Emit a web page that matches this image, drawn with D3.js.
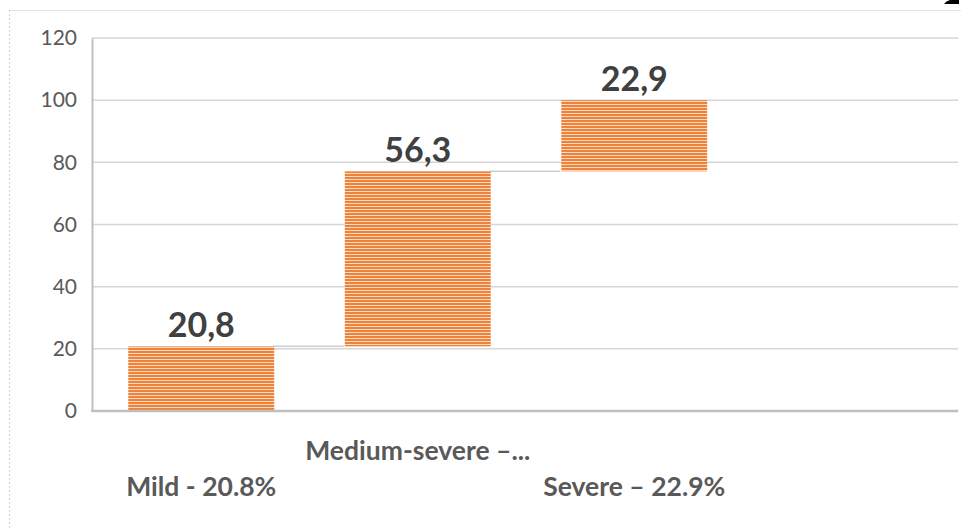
<!DOCTYPE html>
<html><head><meta charset="utf-8">
<script src="https://cdn.jsdelivr.net/npm/d3@7"></script>
<style>html,body{margin:0;padding:0;background:#fff;}svg{display:block;}</style>
</head><body>
<svg id="c" width="961" height="529"></svg>
<script>
const categories = ["Mild - 20.8%", "Medium-severe –...", "Severe – 22.9%", ""];
const values = [20.8, 56.3, 22.9];
const valueLabels = ["20,8", "56,3", "22,9"];
const yTicks = [0, 20, 40, 60, 80, 100, 120];

const svg = d3.select("#c");
const W = 961, H = 529;
const mLeft = 92, mRight = 958, mTop = 38, mBottom = 411;

// chart border
svg.append("line").attr("x1", 9).attr("x2", W).attr("y1", 10.5).attr("y2", 10.5)
  .attr("stroke", "#e3e3e3").attr("stroke-width", 1);
svg.append("line").attr("x1", 9.5).attr("x2", 9.5).attr("y1", 10).attr("y2", H)
  .attr("stroke", "#d0d0d0").attr("stroke-width", 1).attr("stroke-dasharray", "2,2");

// cut-off glyph fragment at top right (bottom stroke of a cropped character)
svg.append("path").attr("d", "M944,4 Q946,1 950,0 L959,0 L959,4 Z").attr("fill", "#000");

const defs = svg.append("defs");
const pat = defs.append("pattern").attr("id", "stripes").attr("patternUnits", "userSpaceOnUse")
  .attr("width", 8).attr("height", 3);
pat.append("rect").attr("width", 8).attr("height", 3).attr("fill", "#ee8239");
pat.append("rect").attr("y", 2).attr("width", 8).attr("height", 1).attr("fill", "#fbd9c2");

const x = d3.scaleBand().domain(categories).range([mLeft, mRight]).paddingInner(0.326).paddingOuter(0.163);
const y = d3.scaleLinear().domain([0, 120]).range([mBottom, mTop]);

// gridlines
svg.append("g").selectAll("line").data(yTicks.filter(t => t > 0)).join("line")
  .attr("x1", mLeft).attr("x2", mRight)
  .attr("y1", d => y(d)).attr("y2", d => y(d))
  .attr("stroke", "#d6d6d6").attr("stroke-width", 1.5);

// y axis
const yAxis = d3.axisLeft(y).tickValues(yTicks).tickSize(0).tickPadding(15);
const gy = svg.append("g").attr("transform", `translate(${mLeft},0)`).call(yAxis);
gy.select(".domain").attr("stroke", "#bfbfbf").attr("stroke-width", 2);
gy.selectAll("text").attr("font-family", "Lato, 'Open Sans', sans-serif").attr("font-size", 21)
  .attr("fill", "#595959");

// waterfall data
let cum = 0;
const bars = values.map((v, i) => { const b = {cat: categories[i], start: cum, end: cum + v, label: valueLabels[i]}; cum += v; return b; });

// connectors
svg.append("g").selectAll("line").data(bars.slice(0, -1)).join("line")
  .attr("x1", (d) => x(d.cat) + x.bandwidth())
  .attr("x2", (d, i) => x(bars[i + 1].cat))
  .attr("y1", d => y(d.end)).attr("y2", d => y(d.end))
  .attr("stroke", "#cfcfcf").attr("stroke-width", 1.5);

// bars
svg.append("g").selectAll("rect").data(bars).join("rect")
  .attr("x", d => x(d.cat) + 1).attr("width", x.bandwidth())
  .attr("y", d => y(d.end)).attr("height", d => y(d.start) - y(d.end))
  .attr("fill", "url(#stripes)");

// x axis line
svg.append("line").attr("x1", mLeft - 1).attr("x2", mRight).attr("y1", mBottom).attr("y2", mBottom)
  .attr("stroke", "#bfbfbf").attr("stroke-width", 2.5);

// value labels
svg.append("g").selectAll("text").data(bars).join("text")
  .attr("x", d => x(d.cat) + x.bandwidth() / 2 + 1).attr("y", d => y(d.end) - 9)
  .attr("text-anchor", "middle").attr("font-family", "Lato, 'Open Sans', sans-serif")
  .attr("font-weight", "bold").attr("font-size", 34).attr("fill", "#404040")
  .text(d => d.label);

// category labels (staggered)
svg.append("g").selectAll("text").data(categories.filter(c => c !== "")).join("text")
  .attr("x", d => x(d) + x.bandwidth() / 2 + 1)
  .attr("y", (d, i) => i % 2 === 0 ? 496 : 460)
  .attr("text-anchor", "middle").attr("font-family", "Lato, 'Open Sans', sans-serif")
  .attr("font-weight", "bold").attr("font-size", 26.5).attr("fill", "#595959")
  .text(d => d);
</script>
</body></html>
